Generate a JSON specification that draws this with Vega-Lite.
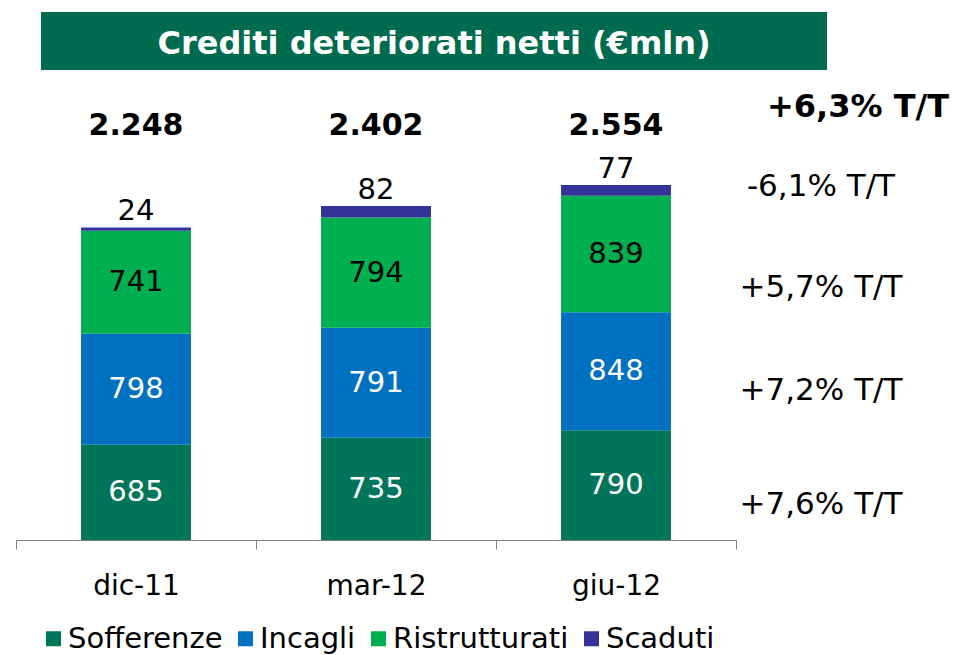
{
  "$schema": "https://vega.github.io/schema/vega-lite/v6.json",
  "padding": {"left": 15, "top": 12, "right": 0, "bottom": 0},
  "background": "white",
  "config": {
    "view": {"stroke": null},
    "font": "DejaVu Sans",
    "locale": {"number": {"decimal": ",", "thousands": ".", "grouping": [3], "currency": ["€", ""]}},
    "text": {"font": "DejaVu Sans"}
  },
  "datasets": {
    "credits": [
      {"date": "dic-11", "series": "Sofferenze", "idx": 1, "value": 685},
      {"date": "dic-11", "series": "Incagli", "idx": 2, "value": 798},
      {"date": "dic-11", "series": "Ristrutturati", "idx": 3, "value": 741},
      {"date": "dic-11", "series": "Scaduti", "idx": 4, "value": 24},
      {"date": "mar-12", "series": "Sofferenze", "idx": 1, "value": 735},
      {"date": "mar-12", "series": "Incagli", "idx": 2, "value": 791},
      {"date": "mar-12", "series": "Ristrutturati", "idx": 3, "value": 794},
      {"date": "mar-12", "series": "Scaduti", "idx": 4, "value": 82},
      {"date": "giu-12", "series": "Sofferenze", "idx": 1, "value": 790, "growth": "+7,6% T/T"},
      {"date": "giu-12", "series": "Incagli", "idx": 2, "value": 848, "growth": "+7,2% T/T"},
      {"date": "giu-12", "series": "Ristrutturati", "idx": 3, "value": 839, "growth": "+5,7% T/T"},
      {"date": "giu-12", "series": "Scaduti", "idx": 4, "value": 77, "growth": "-6,1% T/T"}
    ]
  },
  "data": {"name": "credits"},
  "spacing": 10,
  "vconcat": [
    {
      "spacing": 0,
      "hconcat": [
        {
          "width": 25, "height": 58,
          "data": {"values": [{}]},
          "mark": {"type": "text"},
          "encoding": {"text": {"value": ""}}
        },
        {
          "width": 786, "height": 58,
          "view": {"fill": "#006B4F", "stroke": null},
          "data": {"values": [{}]},
          "mark": {"type": "text", "color": "white", "fontWeight": "bold", "fontSize": 32, "align": "center", "baseline": "middle", "dy": 3},
          "encoding": {"text": {"value": "Crediti deteriorati netti (€mln)"}}
        }
      ]
    },
    {
      "spacing": 0,
      "hconcat": [
        {
          "width": 720, "height": 460,
          "encoding": {
            "x": {
              "field": "date", "type": "nominal",
              "sort": ["dic-11", "mar-12", "giu-12"],
              "scale": {"paddingInner": 0, "paddingOuter": 0},
              "axis": {"title": null, "labelAngle": 0, "tickBand": "extent", "labelFontSize": 28, "labelColor": "black", "labelFont": "DejaVu Sans", "domainColor": "#7f7f7f", "tickColor": "#7f7f7f", "tickSize": 9, "labelPadding": 23, "grid": false}
            }
          },
          "layer": [
            {
              "mark": {"type": "bar", "width": {"band": 0.458}},
              "encoding": {
                "y": {"field": "value", "type": "quantitative", "stack": "zero", "scale": {"domain": [0, 3309], "nice": false}, "axis": null},
                "color": {
                  "field": "series", "type": "nominal",
                  "scale": {"domain": ["Sofferenze", "Incagli", "Ristrutturati", "Scaduti"], "range": ["#00755A", "#0070C0", "#00B050", "#333399"]},
                  "legend": {"orient": "bottom", "direction": "horizontal", "title": null, "symbolType": "square", "symbolSize": 225, "symbolStrokeWidth": 0, "labelFontSize": 29, "labelFont": "DejaVu Sans", "labelColor": "black", "labelLimit": 400, "columnPadding": 8, "labelOffset": 0, "padding": 23, "offset": 1}
                },
                "order": {"field": "idx", "type": "quantitative"}
              }
            },
            {
              "mark": {"type": "text", "fontSize": 29, "baseline": "middle"},
              "encoding": {
                "y": {"field": "value", "type": "quantitative", "stack": "zero", "bandPosition": 0.5, "scale": {"domain": [0, 3309], "nice": false}, "axis": null},
                "detail": {"field": "series"},
                "order": {"field": "idx", "type": "quantitative"},
                "text": {"condition": {"test": "datum.series === 'Scaduti'", "value": ""}, "field": "value", "type": "quantitative"},
                "color": {"condition": {"test": "datum.series === 'Ristrutturati'", "value": "black"}, "value": "white"}
              }
            },
            {
              "mark": {"type": "text", "fontSize": 29, "baseline": "middle", "dy": -16, "color": "black"},
              "encoding": {
                "y": {"field": "value", "type": "quantitative", "stack": "zero", "scale": {"domain": [0, 3309], "nice": false}, "axis": null},
                "detail": {"field": "series"},
                "order": {"field": "idx", "type": "quantitative"},
                "text": {"condition": {"test": "datum.series !== 'Scaduti'", "value": ""}, "field": "value", "type": "quantitative"}
              }
            },
            {
              "transform": [{"aggregate": [{"op": "sum", "field": "value", "as": "total"}], "groupby": ["date"]}],
              "mark": {"type": "text", "fontSize": 30, "fontWeight": "bold", "baseline": "middle", "color": "black"},
              "encoding": {
                "y": {"datum": 2980, "type": "quantitative", "scale": {"domain": [0, 3309], "nice": false}, "axis": null},
                "text": {"field": "total", "type": "quantitative", "format": ",d"}
              }
            }
          ]
        },
        {
          "width": 168, "height": 460,
          "transform": [{"filter": "datum.date === 'giu-12'"}],
          "encoding": {
            "y": {"field": "value", "type": "quantitative", "stack": "zero", "scale": {"domain": [0, 3309], "nice": false}, "axis": null},
            "detail": {"field": "series"},
            "order": {"field": "idx", "type": "quantitative"}
          },
          "layer": [
            {
              "mark": {"type": "text", "fontSize": 31, "baseline": "middle", "dy": 20, "color": "black"},
              "encoding": {
                "y": {"field": "value", "type": "quantitative", "stack": "zero", "bandPosition": 0.5, "scale": {"domain": [0, 3309], "nice": false}, "axis": null},
                "text": {"condition": {"test": "datum.series === 'Scaduti' || datum.series === 'Ristrutturati'", "value": ""}, "field": "growth"}
              }
            },
            {
              "mark": {"type": "text", "fontSize": 31, "baseline": "middle", "dy": 34, "color": "black"},
              "encoding": {
                "y": {"field": "value", "type": "quantitative", "stack": "zero", "bandPosition": 0.5, "scale": {"domain": [0, 3309], "nice": false}, "axis": null},
                "text": {"condition": {"test": "datum.series !== 'Ristrutturati'", "value": ""}, "field": "growth"}
              }
            },
            {
              "mark": {"type": "text", "fontSize": 31, "baseline": "middle", "dy": 2, "color": "black"},
              "encoding": {
                "text": {"condition": {"test": "datum.series !== 'Scaduti'", "value": ""}, "field": "growth"}
              }
            },
            {
              "mark": {"type": "text", "fontSize": 32, "fontWeight": "bold", "baseline": "middle", "dy": -78, "dx": 37, "color": "black"},
              "encoding": {
                "text": {"condition": {"test": "datum.series !== 'Scaduti'", "value": ""}, "value": "+6,3% T/T"}
              }
            }
          ]
        }
      ]
    }
  ]
}
